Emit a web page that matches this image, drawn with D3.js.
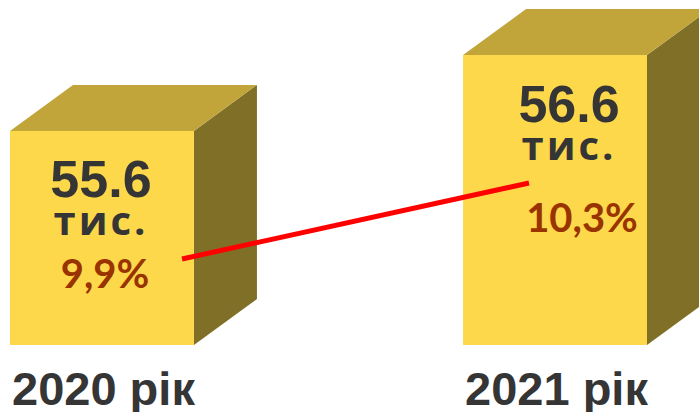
<!DOCTYPE html>
<html>
<head>
<meta charset="utf-8">
<script src="https://cdn.jsdelivr.net/npm/d3@7"></script>
<style>
  html, body { margin: 0; padding: 0; background: #fff; }
  svg { display: block; }
</style>
</head>
<body>
<div id="chart"></div>
<script>
(function() {
  // data
  const years = ["2020 рік", "2021 рік"];
  const totals = [55.6, 56.6];
  const totalLabels = ["55.6", "56.6"];
  const unitLabel = "тис.";
  const shares = [9.9, 10.3];
  const shareLabels = ["9,9%", "10,3%"];

  // layout
  const width = 699;
  const height = 412;
  const base = 345;
  const depthX = 63;
  const depthY = 46;
  const nudge = [
    { dx: -1, pctDx: 4, numDy: 66, unitDy: 104, pctDy: 157 },
    { dx: 14, pctDx: 13, numDy: 67, unitDy: 105, pctDy: 177 }
  ];

  const colors = {
    front: "#fdd84b",
    top: "#c1a53a",
    side: "#7f6f27",
    text: "#353535",
    pct: "#993300",
    line: "#ff0000"
  };

  const svg = d3.select("#chart")
    .append("svg")
    .attr("width", width)
    .attr("height", height)
    .attr("viewBox", "0 0 " + width + " " + height);

  const x = d3.scaleBand()
    .domain(years)
    .range([10, 647])
    .paddingInner(0.594);

  const y = d3.scaleLinear()
    .domain([52.78, 56.6])
    .range([base, 55]);

  const lineX = d3.scalePoint()
    .domain(years)
    .range([182, 529]);

  const y2 = d3.scaleLinear()
    .domain([9.9, 10.3])
    .range([259, 183]);

  const rows = years.map(function(yr, i) {
    return { year: yr, total: totals[i], share: shares[i], i: i };
  });

  const box = svg.selectAll("g.box")
    .data(rows)
    .enter()
    .append("g")
    .attr("class", "box");

  // side face
  box.append("polygon")
    .attr("fill", colors.side)
    .attr("points", function(d) {
      const x1 = x(d.year) + x.bandwidth();
      const t = y(d.total);
      return [[x1, t], [x1 + depthX, t - depthY], [x1 + depthX, base - depthY], [x1, base]].join(" ");
    });

  // top face
  box.append("polygon")
    .attr("fill", colors.top)
    .attr("points", function(d) {
      const x0 = x(d.year);
      const x1 = x0 + x.bandwidth();
      const t = y(d.total);
      return [[x0, t], [x0 + depthX, t - depthY], [x1 + depthX, t - depthY], [x1, t]].join(" ");
    });

  // front face
  box.append("rect")
    .attr("fill", colors.front)
    .attr("x", function(d) { return x(d.year); })
    .attr("y", function(d) { return y(d.total); })
    .attr("width", x.bandwidth())
    .attr("height", function(d) { return base - y(d.total); });

  // connecting line
  const line = d3.line()
    .x(function(d) { return lineX(d.year); })
    .y(function(d) { return y2(d.share); });

  svg.append("path")
    .datum(rows)
    .attr("fill", "none")
    .attr("stroke", colors.line)
    .attr("stroke-width", 5)
    .attr("d", line);

  // labels
  function cx(d) {
    return x(d.year) + x.bandwidth() / 2 + nudge[d.i].dx;
  }

  box.append("text")
    .attr("x", cx)
    .attr("y", function(d) { return y(d.total) + nudge[d.i].numDy; })
    .attr("text-anchor", "middle")
    .attr("fill", colors.text)
    .style("font-family", "'Liberation Sans', Arial, sans-serif")
    .style("font-weight", "bold")
    .style("font-size", "52px")
    .text(function(d) { return totalLabels[d.i]; });

  box.append("text")
    .attr("x", cx)
    .attr("y", function(d) { return y(d.total) + nudge[d.i].unitDy; })
    .attr("text-anchor", "middle")
    .attr("fill", colors.text)
    .style("font-family", "'Open Sans', sans-serif")
    .style("font-weight", "bold")
    .style("font-size", "40px")
    .style("letter-spacing", "3px")
    .text(unitLabel);

  box.append("text")
    .attr("x", function(d) { return cx(d) + nudge[d.i].pctDx; })
    .attr("y", function(d) { return y(d.total) + nudge[d.i].pctDy; })
    .attr("text-anchor", "middle")
    .attr("fill", colors.pct)
    .style("font-family", "Lato, sans-serif")
    .style("font-weight", "bold")
    .style("font-size", "40px")
    .text(function(d) { return shareLabels[d.i]; });

  // year captions
  box.append("text")
    .attr("x", function(d) { return x(d.year) + 2; })
    .attr("y", 405)
    .attr("fill", colors.text)
    .style("font-family", "'Liberation Sans', Arial, sans-serif")
    .style("font-weight", "bold")
    .style("font-size", "47px")
    .text(function(d) { return d.year; });
}());
</script>
</body>
</html>
